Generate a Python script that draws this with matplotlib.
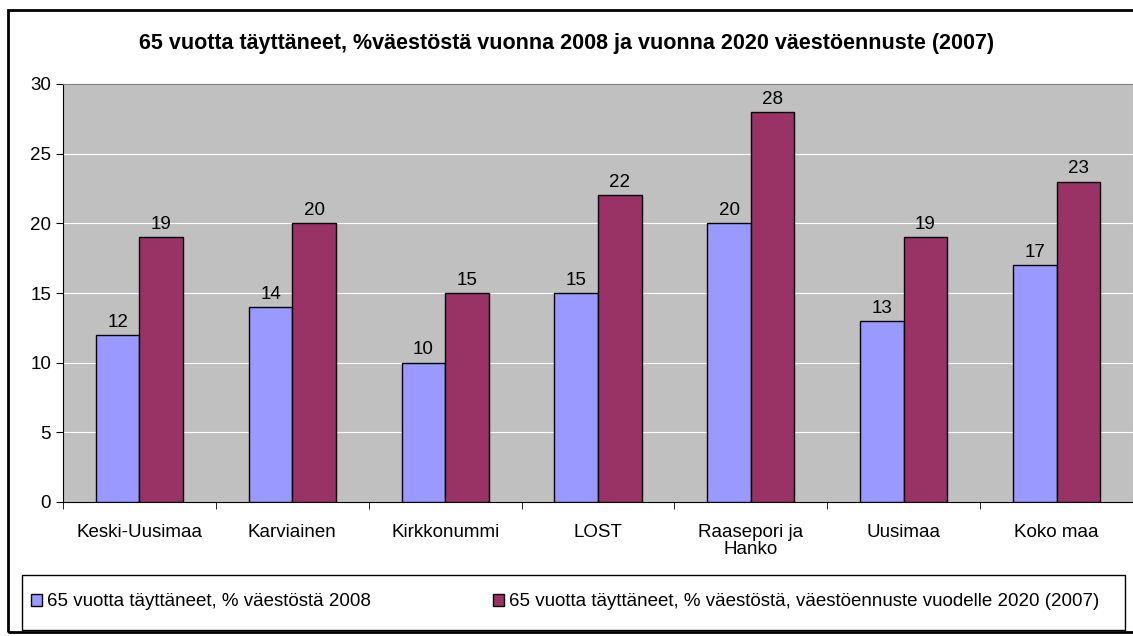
import numpy as np
import matplotlib.pyplot as plt
from matplotlib.patches import Rectangle

plt.rcParams['font.family'] = ['Liberation Sans', 'DejaVu Sans']

kunnat = ['Keski-Uusimaa', 'Karviainen', 'Kirkkonummi', 'LOST',
          'Raasepori ja\nHanko', 'Uusimaa', 'Koko maa']
v2008 = [12, 14, 10, 15, 20, 13, 17]
v2020 = [19, 20, 15, 22, 28, 19, 23]

lbl_2008 = '65 vuotta täyttäneet, % väestöstä 2008'
lbl_2020 = '65 vuotta täyttäneet, % väestöstä, väestöennuste vuodelle 2020 (2007)'

fig = plt.figure(figsize=(11.33, 6.36), dpi=100)
W, H = 1133, 636
ax = fig.add_axes([63 / W, 1 - 502 / H, (1133 - 63) / W, (502 - 84) / H])
ax.set_facecolor('#C0C0C0')

x = np.arange(len(kunnat))
w = 0.285
b1 = ax.bar(x - w / 2, v2008, w, color='#9999FF', edgecolor='black', linewidth=1, label=lbl_2008, zorder=3)
b2 = ax.bar(x + w / 2, v2020, w, color='#993366', edgecolor='black', linewidth=1, label=lbl_2020, zorder=3)
ax.bar_label(b1, padding=3, fontsize=13.5)
ax.bar_label(b2, padding=3, fontsize=13.5)

ax.set_xlim(-0.5, len(kunnat) - 0.5)
ax.set_ylim(0, 30)
ax.set_yticks(range(0, 31, 5))
ax.yaxis.grid(True, color='white', linewidth=0.8, zorder=0)
ax.set_xticks(x)
ax.set_xticklabels(kunnat, fontsize=13.5, linespacing=1.0)
ax.set_xticks(np.arange(-0.5, len(kunnat), 1), minor=True)
ax.tick_params(axis='x', which='major', length=0, pad=16)
ax.tick_params(axis='x', which='minor', length=5, color='black')
ax.tick_params(axis='y', labelsize=13.5, length=5)
for s in ['top', 'right']:
    ax.spines[s].set_color('#808080')
ax.spines['left'].set_color('black')
ax.spines['bottom'].set_color('black')

fig.text(0.5, 1 - 44 / H, '65 vuotta täyttäneet, %väestöstä vuonna 2008 ja vuonna 2020 väestöennuste (2007)',
         ha='center', va='center', fontsize=15.5, fontweight='bold')

# legend box
fig.patches.append(Rectangle((22 / W, 6 / H), 1103 / W, 55 / H, transform=fig.transFigure,
                             facecolor='white', edgecolor='black', linewidth=1))
fig.legend(handles=[b1, b2], loc='center', ncol=2, frameon=False, fontsize=13.5,
           bbox_to_anchor=(565 / W, 34 / H), handlelength=0.6, handleheight=0.6,
           handletextpad=0.25, columnspacing=6.5)

# outer border
fig.patches.append(Rectangle((8 / W, 4 / H), (W - 6) / W, 622 / H, transform=fig.transFigure,
                             facecolor='none', edgecolor='black', linewidth=2, zorder=10))

fig.savefig('out.png', dpi=100)
